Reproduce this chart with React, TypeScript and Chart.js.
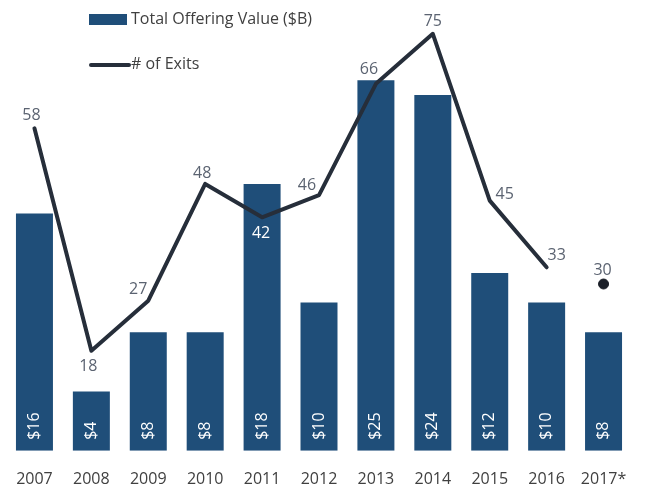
import React, { useEffect, useRef } from "react";
import { Chart, registerables } from "chart.js";

Chart.register(...registerables);

const categories = ["2007", "2008", "2009", "2010", "2011", "2012", "2013", "2014", "2015", "2016", "2017*"];
const offeringValue = [16, 4, 8, 8, 18, 10, 25, 24, 12, 10, 8];
const exits = [58, 18, 27, 48, 42, 46, 66, 75, 45, 33, null];
const exitsProjected = [null, null, null, null, null, null, null, null, null, null, 30];
const barLabels = ["$16", "$4", "$8", "$8", "$18", "$10", "$25", "$24", "$12", "$10", "$8"];

const BAR_COLOR = "#1F4E79";
const LINE_COLOR = "#262E3A";
const LABEL_COLOR = "#5B6371";
const FONT = "'Open Sans', sans-serif";

// label placement relative to each exit point: [dx, dy, color]
const exitLabelOffsets: [number, number, string][] = [
  [-3, -13, LABEL_COLOR],
  [-3, 16, LABEL_COLOR],
  [-10, -11, LABEL_COLOR],
  [-3, -10, LABEL_COLOR],
  [-1, 16, "#FFFFFF"],
  [-12, -10, LABEL_COLOR],
  [-7, -14, LABEL_COLOR],
  [0, -12, LABEL_COLOR],
  [15, -6, LABEL_COLOR],
  [10, -12, LABEL_COLOR],
  [-1, -14, LABEL_COLOR],
];

const labelsPlugin = {
  id: "customLabels",
  afterDatasetsDraw(chart: any) {
    const ctx = chart.ctx;
    ctx.save();
    ctx.font = `16px ${FONT}`;
    const barMeta = chart.getDatasetMeta(0);
    const bottom = chart.chartArea.bottom;
    barMeta.data.forEach((bar: any, i: number) => {
      ctx.save();
      ctx.translate(bar.x, bottom - 11);
      ctx.rotate(-Math.PI / 2);
      ctx.fillStyle = "#FFFFFF";
      ctx.textAlign = "left";
      ctx.textBaseline = "middle";
      ctx.fillText(barLabels[i], 0, 0);
      ctx.restore();
    });
    const lineMeta = chart.getDatasetMeta(1);
    const dotMeta = chart.getDatasetMeta(2);
    ctx.textAlign = "center";
    ctx.textBaseline = "middle";
    categories.forEach((_, i) => {
      let v: number | null = exits[i];
      let el = lineMeta.data[i];
      if (v == null) {
        v = exitsProjected[i];
        el = dotMeta.data[i];
      }
      if (v == null || !el) return;
      const [dx, dy, color] = exitLabelOffsets[i];
      ctx.fillStyle = color;
      ctx.fillText(String(v), el.x + dx, el.y + dy);
    });
    ctx.restore();
  },
  afterDraw(chart: any) {
    const ctx = chart.ctx;
    ctx.save();
    ctx.font = `16px ${FONT}`;
    ctx.textBaseline = "middle";
    ctx.textAlign = "left";
    ctx.fillStyle = BAR_COLOR;
    ctx.fillRect(89, 14, 38, 11);
    ctx.fillStyle = "#404040";
    ctx.fillText("Total Offering Value ($B)", 131, 19);
    ctx.strokeStyle = LINE_COLOR;
    ctx.lineWidth = 4;
    ctx.lineCap = "round";
    ctx.beginPath();
    ctx.moveTo(91, 65);
    ctx.lineTo(129, 65);
    ctx.stroke();
    ctx.fillText("# of Exits", 131, 64);
    ctx.restore();
  },
};

export default function App() {
  const ref = useRef<HTMLCanvasElement>(null);
  useEffect(() => {
    if (!ref.current) return;
    const chart = new Chart(ref.current, {
      type: "bar",
      data: {
        labels: categories,
        datasets: [
          {
            type: "bar",
            label: "Total Offering Value ($B)",
            data: offeringValue,
            backgroundColor: BAR_COLOR,
            barPercentage: 0.65,
            categoryPercentage: 1,
            yAxisID: "y",
            order: 3,
          },
          {
            type: "line",
            label: "# of Exits",
            data: exits,
            borderColor: LINE_COLOR,
            borderWidth: 4,
            pointRadius: 0,
            tension: 0,
            borderJoinStyle: "round",
            borderCapStyle: "round",
            spanGaps: false,
            yAxisID: "y1",
            order: 2,
          },
          {
            type: "line",
            label: "# of Exits (projected)",
            data: exitsProjected,
            showLine: false,
            pointRadius: 5,
            pointBackgroundColor: "#1B1F28",
            pointBorderColor: "#1B1F28",
            yAxisID: "y1",
            order: 1,
          },
        ] as any,
      },
      options: {
        animation: false,
        responsive: false,
        maintainAspectRatio: false,
        layout: { padding: { left: 6, right: 29, top: 4, bottom: 2 } },
        plugins: { legend: { display: false }, tooltip: { enabled: false } },
        scales: {
          x: {
            grid: { display: false },
            border: { display: false },
            ticks: { color: "#404040", font: { family: FONT, size: 16 }, padding: 11 },
          },
          y: { display: false, min: 0, max: 30 },
          y1: { display: false, min: 0, max: 80 },
        },
      },
      plugins: [labelsPlugin],
    });
    return () => chart.destroy();
  }, []);
  return (
    <div style={{ position: "absolute", left: 0, top: 0, width: 661, height: 487, overflow: "hidden", background: "#fff" }}>
      <canvas ref={ref} width={661} height={502} style={{ width: 661, height: 502 }} />
    </div>
  );
}
